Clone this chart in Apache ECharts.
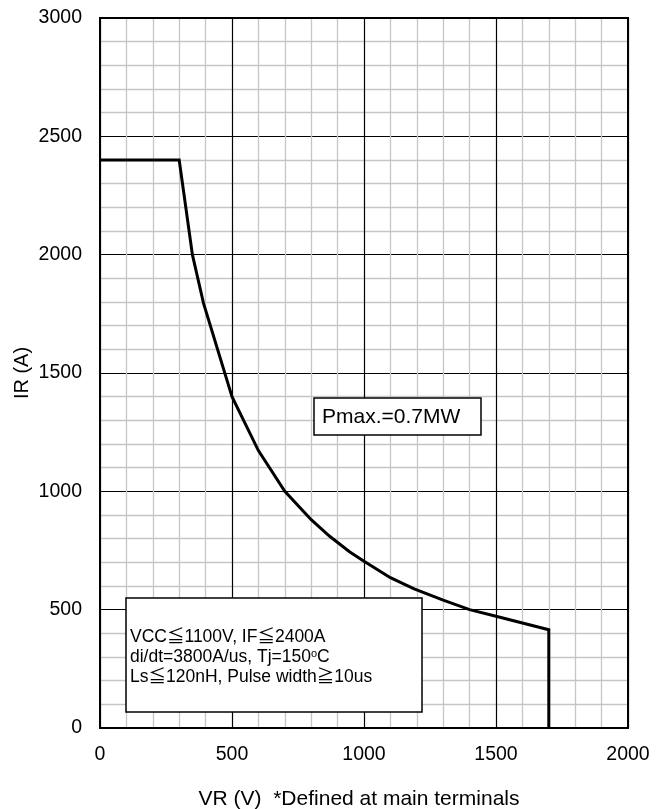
<!DOCTYPE html>
<html>
<head>
<meta charset="utf-8">
<script src="https://cdn.jsdelivr.net/npm/echarts@6/dist/echarts.min.js"></script>
<style>
  html, body { margin: 0; padding: 0; background: #fff; overflow: hidden; }
  #chart { width: 667px; height: 809px; }
</style>
</head>
<body>
<div id="chart"></div>
<script>
// Reverse-bias safe operating area: IR vs VR, Pmax = 0.7 MW
const vrValues = [0, 300, 350, 392, 500, 600, 700, 800, 870, 945, 1000, 1100, 1190, 1300, 1400, 1500, 1700, 1700];
const irValues = [2400, 2400, 2000, 1795, 1400, 1172, 1000, 880, 810, 745, 705, 635, 588, 540, 500, 472, 415, 0];
const xTicks = [0, 500, 1000, 1500, 2000];
const yTicks = [0, 500, 1000, 1500, 2000, 2500, 3000];

const conditionLines = [
  'VCC≦1100V, IF≦2400A',
  'di/dt=3800A/us, Tj=150{sup|o}C',
  'Ls≦120nH, Pulse width≧10us'
];

const FONT = '"Liberation Sans", Arial, sans-serif';
// full-width ≦ / ≧ glyphs come from the CJK face
const COND_FONT = '"Liberation Sans", "Noto Sans CJK JP", sans-serif';

const curve = vrValues.map((v, i) => [v, irValues[i]]);

// plot frame in pixels
const PLOT = { left: 100, top: 18, width: 528, height: 710 };

const chart = echarts.init(document.getElementById('chart'), null, { renderer: 'canvas' });

const axisCommon = {
  type: 'value',
  interval: 500,
  nameLocation: 'middle',
  nameMoveOverlap: false,
  axisLine: { show: true, onZero: false, lineStyle: { color: '#000', width: 2 } },
  axisTick: { show: false },
  splitLine: { show: true, lineStyle: { color: '#000', width: 1.2 } },
  minorTick: { show: false, splitNumber: 5 },
  minorSplitLine: { show: true, lineStyle: { color: '#c6c6c6', width: 1.3 } }
};

const condTexts = conditionLines.map((line, i) => ({
  type: 'text', z: 101,
  x: 130, y: 637 + i * 20,
  style: {
    text: line,
    fontFamily: COND_FONT, fontSize: 17.5, fill: '#000', verticalAlign: 'middle',
    rich: { sup: { fontFamily: FONT, fontSize: 11, fill: '#000', padding: [0, 0, 7, 0] } }
  }
}));

chart.setOption({
  animation: false,
  backgroundColor: '#ffffff',
  grid: {
    left: PLOT.left, top: PLOT.top, width: PLOT.width, height: PLOT.height,
    containLabel: false, outerBoundsMode: 'none'
  },
  xAxis: Object.assign({}, axisCommon, {
    min: xTicks[0],
    max: xTicks[xTicks.length - 1],
    name: 'VR (V)  *Defined at main terminals',
    nameGap: 61,
    nameTextStyle: { fontFamily: FONT, fontSize: 21, color: '#000', padding: [0, 10, 0, 0] },
    axisLabel: { fontFamily: FONT, fontSize: 19.5, color: '#000', margin: 17, formatter: v => String(v) }
  }),
  yAxis: Object.assign({}, axisCommon, {
    min: yTicks[0],
    max: yTicks[yTicks.length - 1],
    name: 'IR (A)',
    nameGap: 68,
    nameTextStyle: { fontFamily: FONT, fontSize: 20, color: '#000' },
    axisLabel: { fontFamily: FONT, fontSize: 19.5, color: '#000', margin: 18, formatter: v => String(v) }
  }),
  series: [{
    type: 'line',
    data: curve,
    symbol: 'none',
    lineStyle: { color: '#000', width: 3, join: 'miter' },
    z: 5
  }],
  graphic: [
    // outer frame of the plot area
    {
      type: 'rect', z: 50, silent: true,
      shape: { x: PLOT.left, y: PLOT.top, width: PLOT.width, height: PLOT.height },
      style: { fill: 'none', stroke: '#000', lineWidth: 2 }
    },
    // Pmax annotation
    { type: 'rect', z: 100, shape: { x: 314, y: 398, width: 167, height: 37 },
      style: { fill: '#fff', stroke: '#000', lineWidth: 1.5 } },
    { type: 'text', z: 101, x: 322, y: 417,
      style: { text: 'Pmax.=0.7MW', fontFamily: FONT, fontSize: 21, fill: '#000', verticalAlign: 'middle' } },
    // test-condition annotation
    { type: 'rect', z: 100, shape: { x: 126, y: 598, width: 296, height: 114 },
      style: { fill: '#fff', stroke: '#000', lineWidth: 1.5 } }
  ].concat(condTexts)
});
</script>
</body>
</html>
